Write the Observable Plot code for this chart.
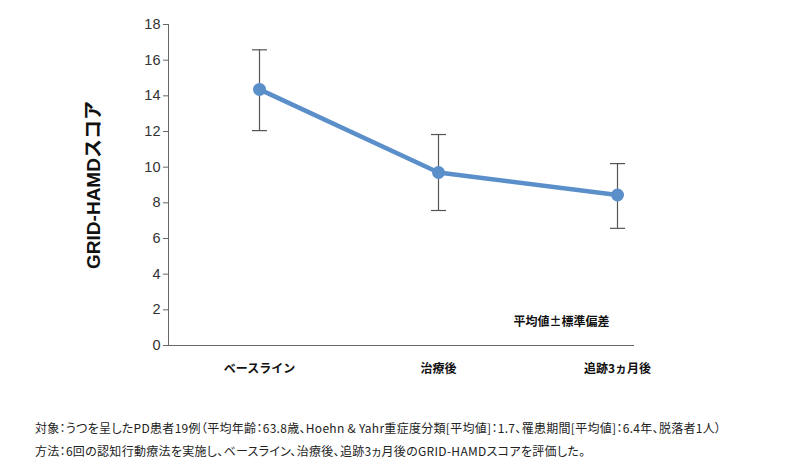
<!DOCTYPE html>
<html><head><meta charset="utf-8">
<script src="https://cdn.jsdelivr.net/npm/d3@7"></script>
<script src="https://cdn.jsdelivr.net/npm/@observablehq/plot@0.6"></script>
<style>
body{margin:0;background:#fff;font-family:"Noto Sans CJK JP","Liberation Sans",sans-serif;}
#chart svg{display:block;}
.note{position:absolute;left:35px;font-size:12px;line-height:18px;color:#222;white-space:nowrap;font-feature-settings:"palt";letter-spacing:0.3px;}
</style></head><body>
<div id="chart" style="position:relative;width:800px;height:400px;"></div>
<div class="note" style="top:419px;">対象：うつを呈したPD患者19例（平均年齢：63.8歳、Hoehn &amp; Yahr重症度分類[平均値]：1.7、罹患期間[平均値]：6.4年、脱落者1人）</div>
<div class="note" style="top:442px;">方法：6回の認知行動療法を実施し、ベースライン、治療後、追跡3ヵ月後のGRID-HAMDスコアを評価した。</div>
<script>
const categories = ["ベースライン", "治療後", "追跡3ヵ月後"];
const means = [14.36, 9.70, 8.44];
const upper = [16.58, 11.83, 10.20];
const lower = [12.05, 7.57, 6.57];
const yTicks = [0, 2, 4, 6, 8, 10, 12, 14, 16, 18];

const data = categories.map((c, i) => ({cat: c, mean: means[i], hi: upper[i], lo: lower[i]}));
const cap = {draw(ctx){ ctx.moveTo(-7.5, 0); ctx.lineTo(7.5, 0); }};

const chart = Plot.plot({
  width: 800, height: 400,
  marginLeft: 168, marginRight: 167, marginTop: 24, marginBottom: 55,
  style: {fontFamily: "'Liberation Sans', Arial, sans-serif", background: "#fff"},
  x: {type: "point", domain: categories, range: [259, 617], padding: 0, label: null},
  y: {domain: [0, 18], label: null},
  marks: [
    Plot.frame({anchor: "left", stroke: "#666"}),
    Plot.frame({anchor: "bottom", stroke: "#666"}),
    Plot.axisY(yTicks, {tickSize: 5, tickPadding: 3, stroke: "#666", fill: "#333", fontSize: 14.5}),
    Plot.axisX({tickSize: 0, tickPadding: 19, fontSize: 12, fontWeight: "bold", fill: "#111", fontFamily: "'Noto Sans CJK JP', sans-serif"}),
    Plot.ruleX(data, {x: "cat", y1: "lo", y2: "hi", stroke: "#555", strokeWidth: 1.2}),
    Plot.dot(data, {x: "cat", y: "hi", symbol: cap, stroke: "#555", strokeWidth: 1.2, fill: "none"}),
    Plot.dot(data, {x: "cat", y: "lo", symbol: cap, stroke: "#555", strokeWidth: 1.2, fill: "none"}),
    Plot.line(data, {x: "cat", y: "mean", stroke: "#5b8fca", strokeWidth: 4.5}),
    Plot.dot(data, {x: "cat", y: "mean", r: 6.5, fill: "#5b8fca", stroke: "none"}),
    Plot.text(["平均値±標準偏差"], {frameAnchor: "bottom-right", dx: -24, dy: -20, fontSize: 12, fontWeight: "bold", fill: "#111", fontFamily: "'Noto Sans CJK JP', sans-serif", textAnchor: "end"}),
    Plot.text(["GRID-HAMDスコア"], {frameAnchor: "left", dx: -75, dy: 0, rotate: -90, textAnchor: "middle", fontSize: 19, fontWeight: "bold", fill: "#111", fontFamily: "'Liberation Sans', 'Noto Sans CJK JP', sans-serif"})
  ]
});
document.getElementById("chart").appendChild(chart);
</script>
</body></html>
